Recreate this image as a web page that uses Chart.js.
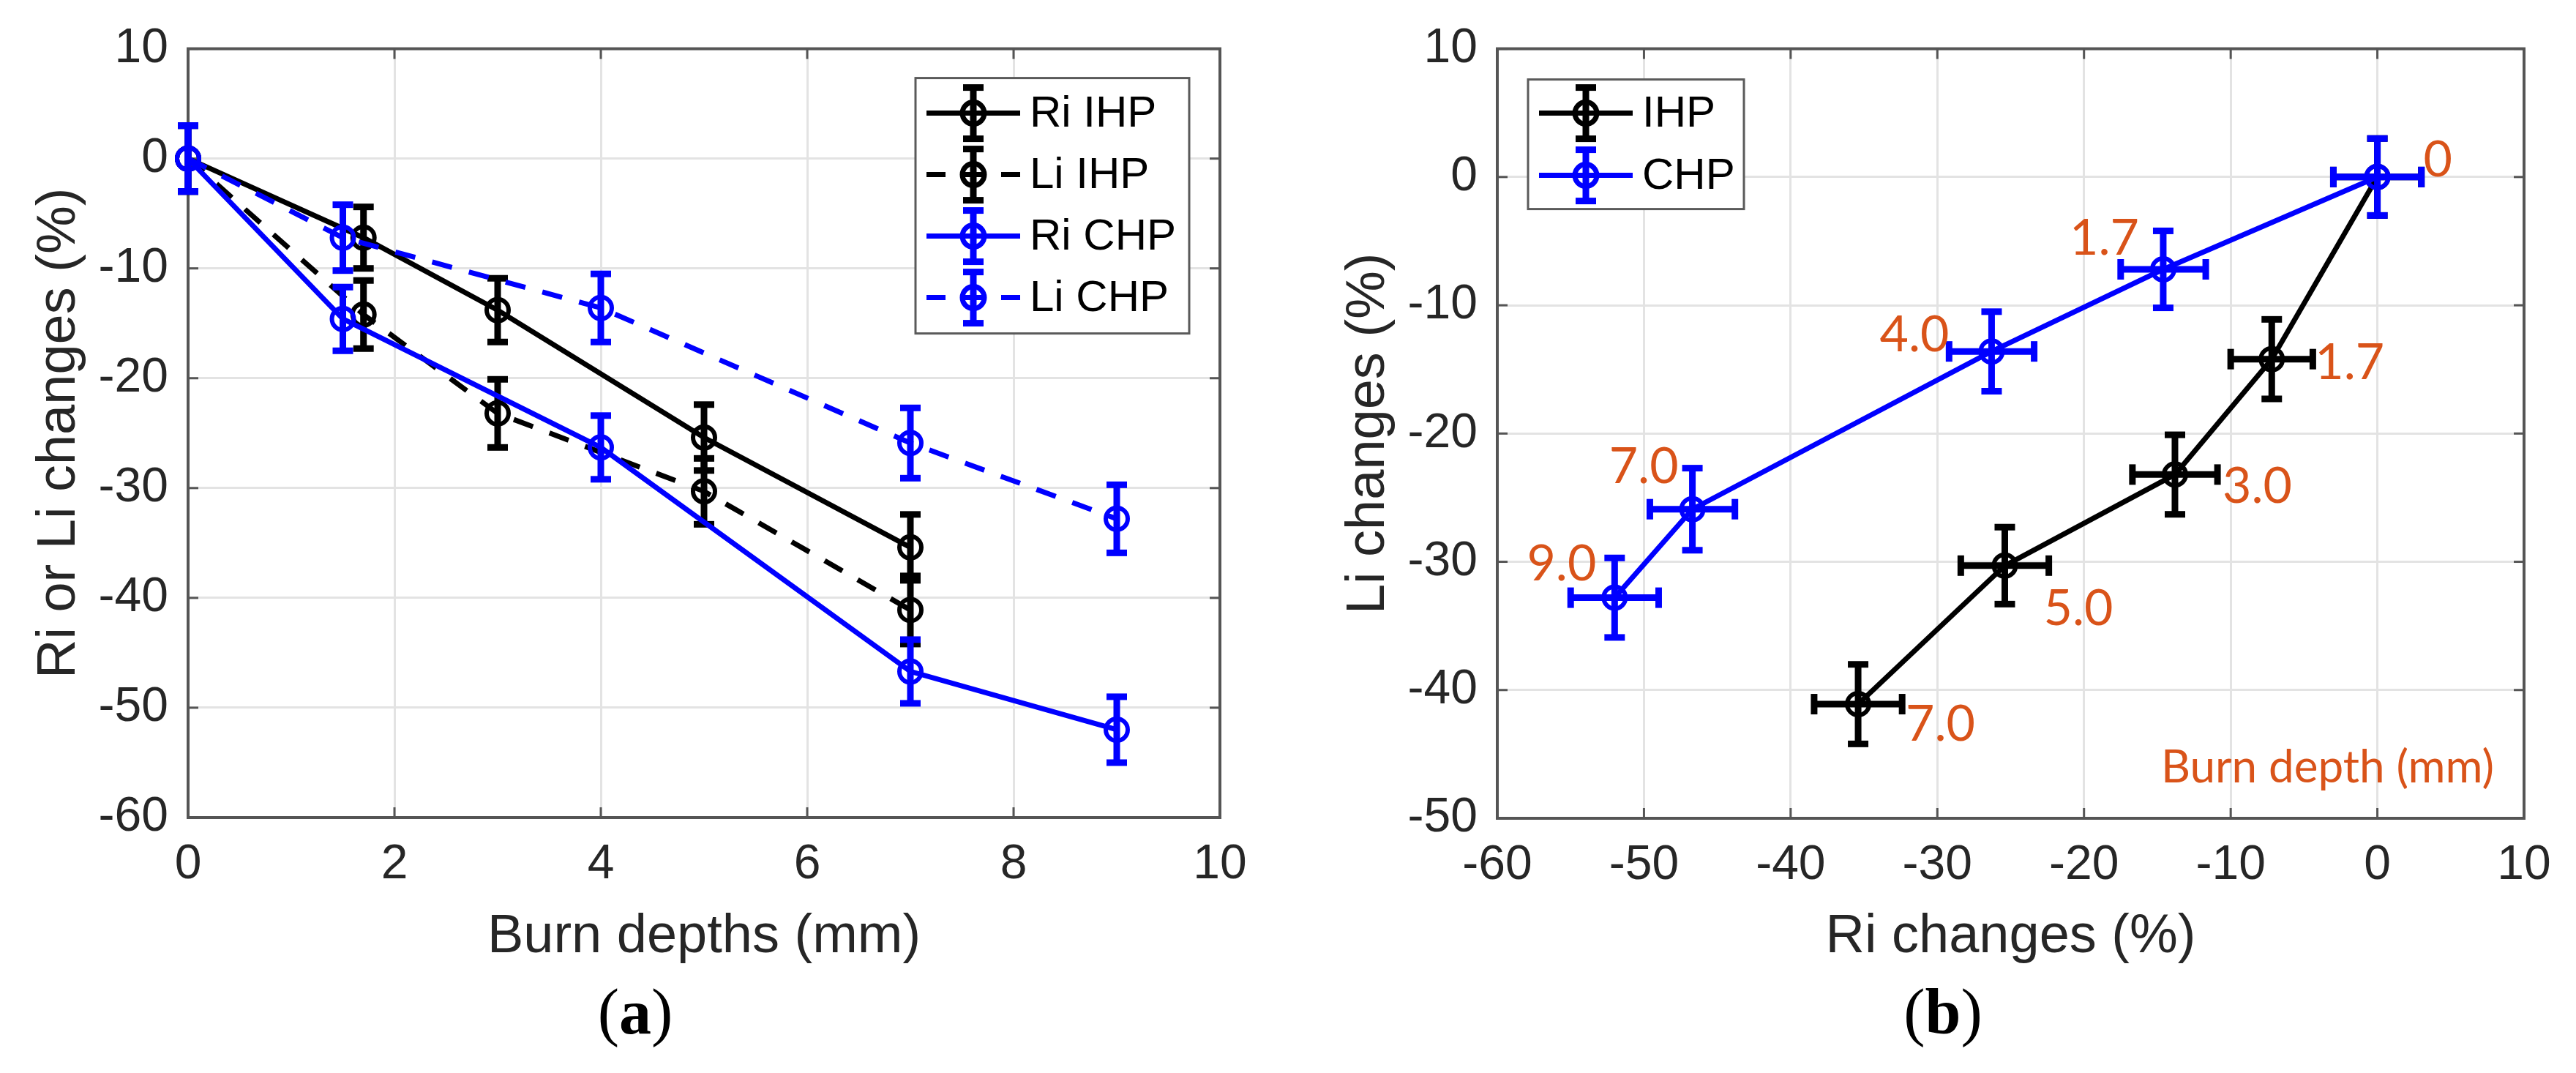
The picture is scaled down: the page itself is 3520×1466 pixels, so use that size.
<!DOCTYPE html>
<html>
<head>
<meta charset="utf-8">
<title>Ri and Li changes vs burn depth</title>
<script src="https://cdn.jsdelivr.net/npm/chart.js@4.4.1/dist/chart.umd.min.js"></script>
<style>
  html, body { margin: 0; padding: 0; background: #fff; overflow: hidden; }
  #wrap { position: relative; width: 3520px; height: 1466px; }
  canvas { position: absolute; top: 0; }
  #chartA { left: 0; }
  #chartB { left: 1760px; }
  .panel-tag {
    position: absolute; top: 1339px;
    font-family: "Liberation Serif", "Times New Roman", serif;
    font-size: 88px; line-height: 1; color: #000;
    transform: translateX(-50%); white-space: nowrap;
  }
</style>
</head>
<body>
<div id="wrap">
  <canvas id="chartA" width="1760" height="1466"></canvas>
  <canvas id="chartB" width="1760" height="1466"></canvas>
  <div class="panel-tag" style="left: 868px">(<b>a</b>)</div>
  <div class="panel-tag" style="left: 2655px">(<b>b</b>)</div>
</div>
<script>
// burn depths (mm)
const ihpDepth = [0, 1.7, 3, 5, 7];
const chpDepth = [0, 1.5, 4, 7, 9];

// changes (%)
const riIHP = [0, -7.2, -13.8, -25.4, -35.4];
const liIHP = [0, -14.2, -23.2, -30.3, -41.1];
const riCHP = [0, -14.6, -26.3, -46.7, -52.0];
const liCHP = [0, -7.2, -13.6, -25.9, -32.8];

// error bar half lengths (%)
const riIHPErr = [3.0, 2.8, 2.9, 3.0, 3.0];
const liIHPErr = [3.0, 3.1, 3.1, 3.0, 3.1];
const riCHPErr = [3.0, 2.9, 2.9, 2.9, 3.0];
const liCHPErr = [3.0, 3.0, 3.1, 3.2, 3.1];

// depth labels shown in panel (b)
const ihpLabels = ["", "1.7", "3.0", "5.0", "7.0"];
const chpLabels = ["0", "1.7", "4.0", "7.0", "9.0"];

// ticks
const xTicksA = [0, 2, 4, 6, 8, 10];
const yTicksA = [-60, -50, -40, -30, -20, -10, 0, 10];
const xTicksB = [-60, -50, -40, -30, -20, -10, 0, 10];
const yTicksB = [-50, -40, -30, -20, -10, 0, 10];

const BLACK = "#000000";
const BLUE = "#0000ff";
const ORANGE = "#d95319";
const AXIS = "#262626";
const GRID = "#e3e3e3";
const DASH = [28, 24];
const SANS = '"Liberation Sans", Arial, sans-serif';

function pts(xs, ys) {
  return xs.map((x, i) => ({ x: x, y: ys[i] }));
}

function series(label, xs, ys, color, dashed, xErr, yErr, order) {
  return {
    label: label,
    data: pts(xs, ys),
    showLine: true,
    clip: false,
    order: order,
    borderColor: color,
    backgroundColor: color,
    borderWidth: 7,
    borderDash: dashed ? DASH : [],
    pointRadius: 15,
    pointHoverRadius: 15,
    pointBorderWidth: 6,
    pointBorderColor: color,
    pointBackgroundColor: "rgba(0,0,0,0)",
    xErr: xErr,
    yErr: yErr,
    dashed: dashed
  };
}

function axis(dir, min, max, tickVals, title, size, titlePad) {
  const horiz = dir === "x";
  return {
    type: "linear",
    position: horiz ? "bottom" : "left",
    min: min,
    max: max,
    afterBuildTicks: (s) => { s.ticks = tickVals.map((v) => ({ value: v })); },
    afterFit: (s) => { if (horiz) s.height = size; else s.width = size; },
    grid: { color: GRID, lineWidth: 3, drawTicks: false },
    border: { display: false },
    ticks: {
      color: AXIS,
      font: { family: SANS, size: 66 },
      padding: horiz ? 25 : 27,
      maxRotation: 0,
      autoSkip: false,
      callback: (v) => String(v)
    },
    title: {
      display: true,
      text: title,
      color: AXIS,
      font: { family: SANS, size: 74 },
      padding: horiz ? { top: 0, bottom: 141 } : { top: titlePad, bottom: 0 }
    }
  };
}

function line(ctx, x1, y1, x2, y2) {
  ctx.beginPath();
  ctx.moveTo(x1, y1);
  ctx.lineTo(x2, y2);
  ctx.stroke();
}

// box around the plot with inward ticks on all four sides
const axesBox = {
  id: "axesBox",
  beforeDatasetsDraw(chart) {
    const { ctx, chartArea: a, scales } = chart;
    const t = 14;
    ctx.save();
    ctx.strokeStyle = "#555555";
    ctx.lineWidth = 4;
    ctx.strokeRect(a.left, a.top, a.right - a.left, a.bottom - a.top);
    ctx.lineWidth = 3;
    scales.x.ticks.forEach((tk) => {
      const px = scales.x.getPixelForValue(tk.value);
      line(ctx, px, a.bottom, px, a.bottom - t);
      line(ctx, px, a.top, px, a.top + t);
    });
    scales.y.ticks.forEach((tk) => {
      const py = scales.y.getPixelForValue(tk.value);
      line(ctx, a.left, py, a.left + t, py);
      line(ctx, a.right, py, a.right - t, py);
    });
    ctx.restore();
  }
};

function vBar(ctx, x, y1, y2, cap) {
  line(ctx, x, y1, x, y2);
  line(ctx, x - cap, y1, x + cap, y1);
  line(ctx, x - cap, y2, x + cap, y2);
}

function hBar(ctx, y, x1, x2, cap) {
  line(ctx, x1, y, x2, y);
  line(ctx, x1, y - cap, x1, y + cap);
  line(ctx, x2, y - cap, x2, y + cap);
}

const errorBars = {
  id: "errorBars",
  afterDatasetDraw(chart, args) {
    const ds = chart.data.datasets[args.index];
    const xs = chart.scales.x, ys = chart.scales.y;
    const ctx = chart.ctx;
    ctx.save();
    ctx.strokeStyle = ds.borderColor;
    ctx.lineWidth = 9;
    ctx.setLineDash([]);
    ds.data.forEach((p, i) => {
      const px = xs.getPixelForValue(p.x);
      const py = ys.getPixelForValue(p.y);
      if (ds.yErr) {
        vBar(ctx, px, ys.getPixelForValue(p.y + ds.yErr[i]), ys.getPixelForValue(p.y - ds.yErr[i]), 14);
      }
      if (ds.xErr) {
        hBar(ctx, py, xs.getPixelForValue(p.x - ds.xErr[i]), xs.getPixelForValue(p.x + ds.xErr[i]), 14);
      }
    });
    ctx.restore();
  }
};

// MATLAB style legend box inside the axes
const boxLegend = {
  id: "boxLegend",
  afterDraw(chart, args, opts) {
    const { ctx, chartArea: a } = chart;
    const bx = opts.side === "right" ? a.right - opts.dx - opts.width : a.left + opts.dx;
    const by = a.top + opts.dy;
    ctx.save();
    ctx.fillStyle = "#ffffff";
    ctx.fillRect(bx, by, opts.width, opts.height);
    ctx.strokeStyle = "#5a5a5a";
    ctx.lineWidth = 3;
    ctx.strokeRect(bx, by, opts.width, opts.height);
    chart.data.datasets.forEach((ds, i) => {
      const y = by + opts.rowTop + i * opts.rowGap;
      const cx = bx + 79;
      ctx.strokeStyle = ds.borderColor;
      ctx.lineWidth = 7;
      ctx.setLineDash(ds.dashed ? [26, 25] : []);
      line(ctx, bx + 15, y, bx + 143, y);
      ctx.setLineDash([]);
      ctx.lineWidth = 7;
      ctx.beginPath();
      ctx.arc(cx, y, 15, 0, Math.PI * 2);
      ctx.stroke();
      ctx.lineWidth = 9;
      vBar(ctx, cx, y - 35, y + 35, 14);
      ctx.fillStyle = "#000000";
      ctx.font = "60px " + SANS;
      ctx.textAlign = "left";
      ctx.textBaseline = "middle";
      ctx.fillText(ds.label, bx + 156, y + 2);
    });
    ctx.restore();
  }
};

// orange burn-depth labels next to the points of panel (b)
const depthLabels = {
  id: "depthLabels",
  afterDraw(chart, args, opts) {
    const { ctx, chartArea: a, scales } = chart;
    ctx.save();
    ctx.fillStyle = ORANGE;
    ctx.textBaseline = "middle";
    ctx.font = opts.font;
    opts.sets.forEach((set, k) => {
      const ds = chart.data.datasets[k];
      ds.data.forEach((p, i) => {
        const txt = set.labels[i];
        if (!txt) return;
        const off = set.offsets[i];
        ctx.textAlign = off[2];
        ctx.fillText(txt, scales.x.getPixelForValue(p.x) + off[0], scales.y.getPixelForValue(p.y) + off[1]);
      });
    });
    ctx.font = opts.noteFont;
    ctx.textAlign = "right";
    ctx.fillText(opts.note, a.right - 41, a.bottom - 69);
    ctx.restore();
  }
};

new Chart(document.getElementById("chartA"), {
  type: "scatter",
  data: {
    datasets: [
      series("Ri IHP", ihpDepth, riIHP, BLACK, false, null, riIHPErr, 4),
      series("Li IHP", ihpDepth, liIHP, BLACK, true, null, liIHPErr, 3),
      series("Ri CHP", chpDepth, riCHP, BLUE, false, null, riCHPErr, 2),
      series("Li CHP", chpDepth, liCHP, BLUE, true, null, liCHPErr, 1)
    ]
  },
  options: {
    responsive: false,
    animation: false,
    devicePixelRatio: 1,
    layout: { padding: { left: 0, right: 93, top: 57, bottom: 0 } },
    plugins: {
      legend: { display: false },
      tooltip: { enabled: false },
      boxLegend: { side: "right", dx: 42, dy: 40, width: 374, height: 349, rowTop: 48, rowGap: 84 }
    },
    scales: {
      x: axis("x", 0, 10, xTicksA, "Burn depths (mm)", 349),
      y: axis("y", -60, 10, yTicksA, "Ri or Li changes (%)", 257, 37)
    }
  },
  plugins: [axesBox, errorBars, boxLegend]
});

new Chart(document.getElementById("chartB"), {
  type: "scatter",
  data: {
    datasets: [
      series("IHP", riIHP, liIHP, BLACK, false, riIHPErr, liIHPErr, 2),
      series("CHP", riCHP, liCHP, BLUE, false, riCHPErr, liCHPErr, 1)
    ]
  },
  options: {
    responsive: false,
    animation: false,
    devicePixelRatio: 1,
    layout: { padding: { left: 0, right: 71, top: 58, bottom: 0 } },
    plugins: {
      legend: { display: false },
      tooltip: { enabled: false },
      boxLegend: { side: "left", dx: 42, dy: 42, width: 295, height: 177, rowTop: 46, rowGap: 85 },
      depthLabels: {
        font: "68px Lato, sans-serif",
        noteFont: "62px Lato, sans-serif",
        note: "Burn depth (mm)",
        sets: [
          { labels: ihpLabels, offsets: [[0, 0, "left"], [59, 5, "left"], [65, 17, "left"], [53, 59, "left"], [65, 28, "left"]] },
          { labels: chpLabels, offsets: [[63, -23, "left"], [-33, -42, "right"], [-58, -22, "right"], [-19, -58, "right"], [-25, -46, "right"]] }
        ]
      }
    },
    scales: {
      x: axis("x", -60, 10, xTicksB, "Ri changes (%)", 348),
      y: axis("y", -50, 10, yTicksB, "Li changes (%)", 286, 66)
    }
  },
  plugins: [axesBox, errorBars, boxLegend, depthLabels]
});
</script>
</body>
</html>
